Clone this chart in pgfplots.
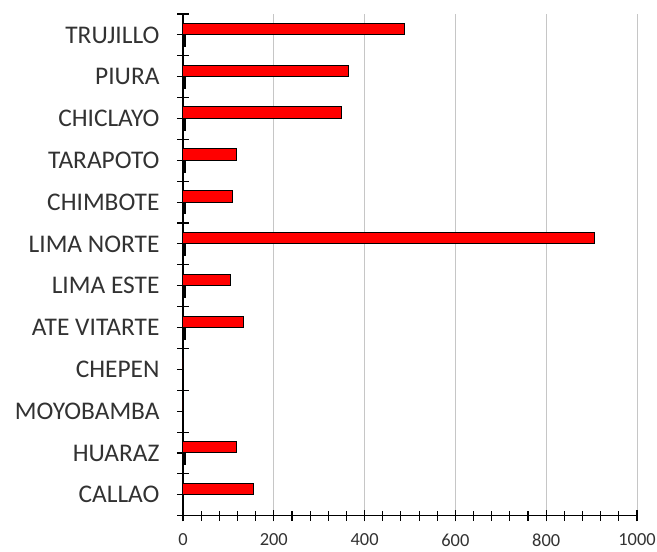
\documentclass[border=0pt]{standalone}
\usepackage{pgfplots}
\pgfplotsset{compat=1.18}
\usepackage{fontspec}
\setmainfont{Carlito}
\definecolor{barred}{RGB}{255,0,0}
\definecolor{labgray}{RGB}{50,50,50}

\begin{document}
\begin{tikzpicture}
  \begin{axis}[
    scale only axis,
    width=454bp, height=501.7bp,
    xmin=0, xmax=1000,
    ymin=-0.5, ymax=11.5,
    axis x line*=bottom,
    axis y line*=left,
    axis line style={line width=1.2bp},
    xtick={0,200,...,1000},
    minor x tick num=4,
    xmajorgrids,
    grid style={gray!45, line width=1bp},
    tick align=center,
    major tick length=11.5bp,
    minor tick length=10bp,
    every tick/.style={black, line width=1.1bp},
    ytick={-0.5,0.5,...,11.5},
    yticklabels={},
    extra y ticks={0,1,...,11},
    extra y tick labels={CALLAO\ ,HUARAZ,MOYOBAMBA,CHEPEN,ATE VITARTE,LIMA ESTE,LIMA NORTE,CHIMBOTE,TARAPOTO,CHICLAYO,PIURA,TRUJILLO},
    extra y tick style={major tick length=6bp, tick align=outside, grid=none,
      yticklabel style={font=\fontsize{25.5}{27}\selectfont, text=labgray, xshift=-14bp}},
    /pgf/number format/assume math mode=true,
    /pgf/number format/1000 sep={},
    xticklabel style={font=\fontsize{18.5}{20}\selectfont, text=labgray, yshift=-9bp},
    clip=false,
  ]
    \addplot[xbar, bar width=11.5bp, bar shift=5.8bp, fill=barred, draw=black, line width=1bp]
      coordinates {(156,0) (118,1) (0,2) (0,3) (133,4) (104,5) (907,6) (109,7) (118,8) (350,9) (364,10) (487,11)};
    \addplot[xbar, bar width=11.5bp, bar shift=-5.8bp, fill=black, draw=black, line width=0.6bp]
      coordinates {(4,1) (4,4) (4,5) (4,6) (4,7) (4,8) (4,9) (4,10) (4,11)};
    \coordinate (bl) at ([xshift=-183bp,yshift=-36.3bp]rel axis cs:0,0);
    \coordinate (tr) at ([xshift=20bp,yshift=14bp]rel axis cs:1,1);
  \end{axis}
  \pgfresetboundingbox
  \path[use as bounding box] (bl) rectangle (tr);
\end{tikzpicture}
\end{document}
